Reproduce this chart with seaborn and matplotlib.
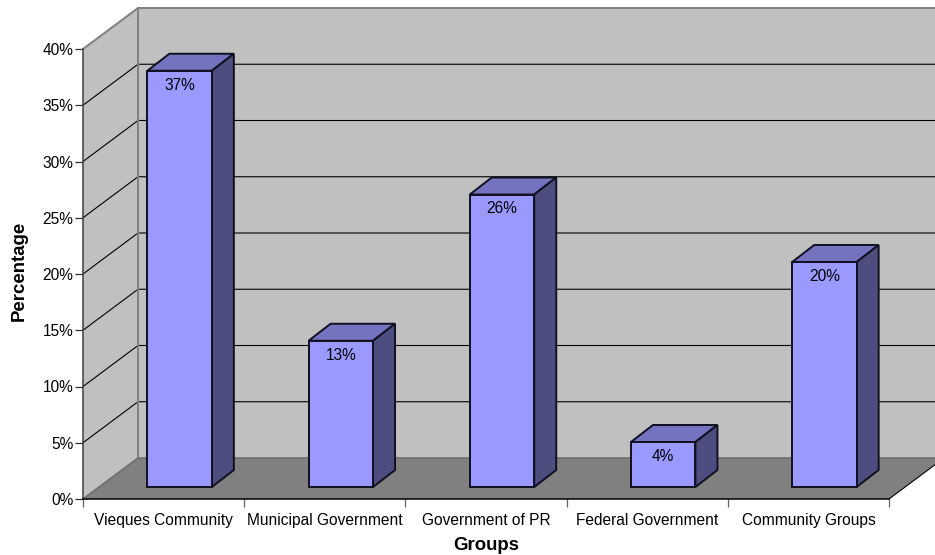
import numpy as np
import pandas as pd
import seaborn as sns
import matplotlib.pyplot as plt
from matplotlib.patches import Polygon

# Chart data
groups = ['Vieques Community', 'Municipal Government', 'Government of PR', 'Federal Government', 'Community Groups']
percent = [37, 13, 26, 4, 20]
y_ticks = [0, 5, 10, 15, 20, 25, 30, 35, 40]

sns.set_theme(style='white')
plt.rcParams['font.family'] = ['Liberation Sans']
FS = 11.2
FS_BOLD = 13.4

W, H = 935, 555
fig = plt.figure(figsize=(W / 100, H / 100), dpi=100, facecolor='white')

# front plane of the 3D box, in pixels
x0, x1, y_base, y_top = 83, 889, 499, 49
depth_x, depth_y = 55, 41
per_pct = (y_base - y_top) / 40


def pixel_axes(left, right, bottom, top):
    return fig.add_axes([left / W, (H - bottom) / H, (right - left) / W, (bottom - top) / H])


# Walls and floor
bg = fig.add_axes([0, 0, 1, 1])
bg.set_xlim(0, W)
bg.set_ylim(H, 0)
bg.axis('off')
bx0, bx1, by0, by1 = x0 + depth_x, x1 + depth_x, y_base - depth_y, y_top - depth_y
bg.add_patch(Polygon([(bx0, by0), (bx1, by0), (bx1, by1), (bx0, by1)], fc='#C0C0C0', ec='none'))
bg.add_patch(Polygon([(x0, y_base), (bx0, by0), (bx0, by1), (x0, y_top)], fc='#C0C0C0', ec='none'))
bg.add_patch(Polygon([(x0, y_base), (x1, y_base), (bx1, by0), (bx0, by0)], fc='#808080', ec='none'))
for t in y_ticks[1:-1]:
    yf = y_base - t * per_pct
    bg.plot([x0, bx0, bx1], [yf, yf - depth_y, yf - depth_y], color='black', lw=0.8)
bg.plot([x0, bx0, bx1], [y_top, by1, by1], color='#808080', lw=1.4)
bg.plot([bx0, bx0], [by1, by0], color='#808080', lw=1.4)
bg.plot([x0, bx0, bx1], [y_base, by0, by0], color='#6E6E6E', lw=1.2)
bg.plot([x1, bx1], [y_base, by0], color='black', lw=0.8)
bg.set_xlim(0, W)
bg.set_ylim(H, 0)

# Axes with ticks and labels
ax = pixel_axes(x0, x1, y_base, y_top)
ax.patch.set_alpha(0)
ax.set_xlim(-0.5, 4.5)
ax.set_ylim(0, 40)
ax.set_yticks(y_ticks)
ax.set_yticklabels([f'{t}%' for t in y_ticks], fontsize=FS, color='black')
ax.set_xticks(np.arange(-0.5, 5, 1))
ax.set_xticklabels([])
ax.set_xticks(range(5), labels=groups, minor=True, fontsize=FS, color='black')
ax.tick_params(axis='y', length=5.5, width=0.9, color='#303030', left=True, pad=1.5)
ax.tick_params(axis='x', which='major', length=5.5, width=0.9, color='#606060', bottom=True)
ax.tick_params(axis='x', which='minor', length=0, pad=19)
for lab in ax.get_xticklabels(minor=True):
    lab.set_va('baseline')
for s in ['top', 'right']:
    ax.spines[s].set_visible(False)
ax.spines['left'].set_color('#404040')
ax.spines['left'].set_linewidth(1.1)
ax.spines['bottom'].set_color('black')
ax.spines['bottom'].set_linewidth(1.1)
ax.set_xlabel('Groups', fontsize=FS_BOLD, fontweight='bold', color='black')
ax.set_ylabel('Percentage', fontsize=FS_BOLD, fontweight='bold', color='black')
ax.xaxis.set_label_coords(0.5, -0.084)
ax.yaxis.set_label_coords(-0.069, 0.507)

# Bars sit 16px right of and 12px above the front plane
bars = pixel_axes(x0 + 16, x1 + 16, y_base - 12, y_top - 12)
df = pd.DataFrame({'group': groups, 'percent': percent})
sns.barplot(data=df, x='group', y='percent', ax=bars, color='#9999FF', saturation=1,
            width=0.4, edgecolor='#101020', linewidth=1.4, zorder=3)
bars.set_xlim(-0.5, 4.5)
bars.set_ylim(0, 40)
bars.axis('off')
bars.patch.set_alpha(0)

dx = 22 / ((x1 - x0) / 5)
dy = 17 / per_pct
for p in bars.patches:
    l, r, h = p.get_x(), p.get_x() + p.get_width(), p.get_height()
    bars.add_patch(Polygon([(l, h), (r, h), (r + dx, h + dy), (l + dx, h + dy)], fc='#7373BF',
                           ec='#101020', lw=1.4, clip_on=False, zorder=2))
    bars.add_patch(Polygon([(r, 0), (r + dx, dy), (r + dx, h + dy), (r, h)], fc='#4D4D80',
                           ec='#101020', lw=1.4, clip_on=False, zorder=2))
    p.set_clip_on(False)

bars.bar_label(bars.containers[0], labels=[f'{v}%' for v in percent], padding=-15.7,
               fontsize=FS, color='black', zorder=5)

fig.savefig('out.png', dpi=100)
